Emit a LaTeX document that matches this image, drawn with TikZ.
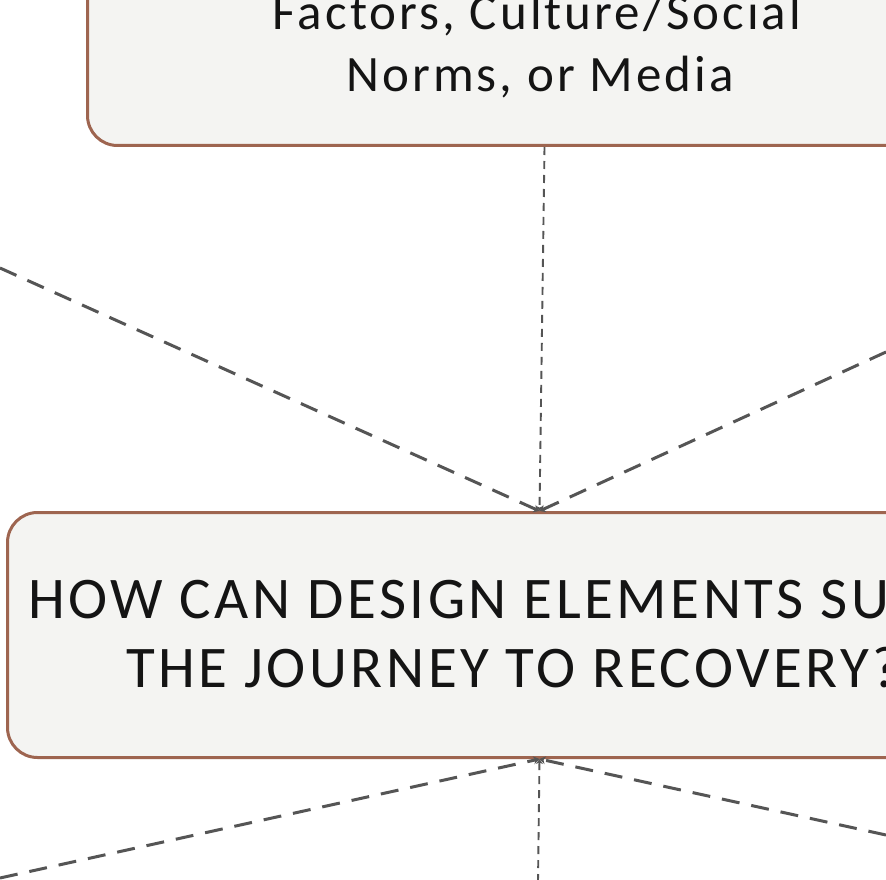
\documentclass[tikz,border=0pt]{standalone}
\usepackage{fontspec}
\setmainfont{Carlito}[LetterSpace=6]
\usetikzlibrary{arrows.meta}
\definecolor{boxedge}{HTML}{9E6550}
\definecolor{boxfill}{HTML}{F4F4F2}
\definecolor{linegray}{HTML}{555555}
\definecolor{txtcol}{HTML}{141414}
\begin{document}
\begin{tikzpicture}[x=1pt,y=-1pt,
  qbox/.style={draw=boxedge, line width=3pt, fill=boxfill, rounded corners=30pt},
  txtbig/.style={font=\fontsize{59}{69}\selectfont, text=txtcol, inner sep=0pt, anchor=base west},
  txtmid/.style={font=\fontsize{51}{64}\selectfont, text=txtcol, inner sep=0pt, anchor=base},
  thinlink/.style={draw=linegray, line width=1.9pt, dash pattern=on 8pt off 6pt, -{Stealth[length=5pt,width=7pt]}},
  thicklink/.style={draw=linegray, line width=3pt, dash pattern=on 18pt off 12pt, -{Stealth[length=6pt,width=8pt]}},
]
\useasboundingbox (0,0) rectangle (886,880);
\clip (0,0) rectangle (886,880);
\fill[white] (0,0) rectangle (886,880);
% boxes
\node[qbox, minimum width=914pt, minimum height=300pt, anchor=south west] (ctx) at (86,147) {};
\node[qbox, minimum width=1064pt, minimum height=245pt, anchor=north west] (q) at (6,511) {};
% texts
\node[txtmid] (f1) at (537,30) {Factors, Culture/Social};
\node[txtmid] (f2) at (540,92) {Norms, or Media};
\node[txtbig] (h1) at (28,618) {HOW CAN DESIGN ELEMENTS SU};
\node[txtbig] (h2) at (126,687) {THE JOURNEY TO RECOVERY?};
% free ends
\coordinate (l1) at (0,268);
\coordinate (r1) at (886,352);
\coordinate (l2) at (0,878);
\coordinate (r2) at (886,835);
\coordinate (b2) at (538,882);
% connectors
\draw[thinlink] (ctx.south) -- (q.north);
\draw[thicklink] (l1) -- (q.north);
\draw[thicklink] (r1) -- (q.north);
\draw[thicklink] (l2) -- (q.south);
\draw[thicklink] (r2) -- (q.south);
\draw[thinlink] (b2) -- (q.south);
\end{tikzpicture}
\end{document}
